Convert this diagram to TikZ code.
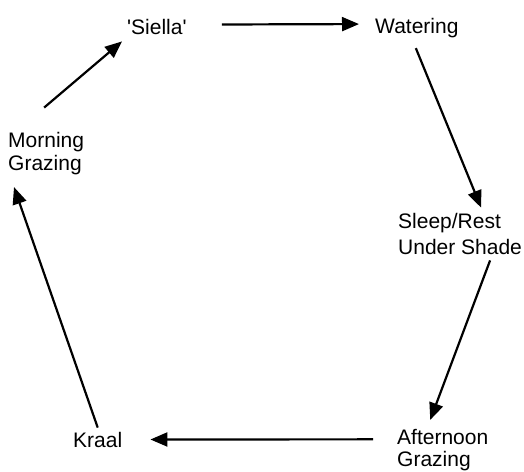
\documentclass[tikz,border=0pt]{standalone}
\usepackage{fontspec}
\newfontfamily\af{Liberation Sans}
\usetikzlibrary{arrows.meta}
\begin{document}
\begin{tikzpicture}[x=1pt,y=-1pt,
  lbl/.style={inner sep=0pt,anchor=base west,align=left,font=\af\fontsize{21}{26}\selectfont},
  arr/.style={line width=2.2pt,-{Triangle[length=17pt,width=14pt]}}]
\useasboundingbox (0,0) rectangle (524,471);
\node[lbl] (siella) at (127,34) {'Siella'};
\node[lbl] (water) at (375,33) {Watering};
\node[lbl,font=\af\fontsize{21}{23.5}\selectfont] (mg) at (8,170.5) {Morning\\Grazing};
\node[lbl] (sleep) at (398,254) {Sleep/Rest\\Under Shade};
\node[lbl,font=\af\fontsize{21}{22.5}\selectfont] (aft) at (397,466.5) {Afternoon\\Grazing};
\node[lbl] (kraal) at (73,447) {Kraal};
\draw[arr] ([shift={(35,-2)}]siella.east) -- ([shift={(-16,-3.5)}]water.west);
\draw[arr] ([shift={(-2,-24)}]mg.north) -- ([shift={(-5,7)}]siella.south west);
\draw[arr] ([shift={(-1,10.6)}]water.south) -- ([shift={(21,-5)}]sleep.north);
\draw[arr] ([shift={(30,6)}]sleep.south) -- ([shift={(-12.5,-8.7)}]aft.north);
\draw[arr] ([shift={(-24,-10.5)}]aft.west) -- ([shift={(28,0)}]kraal.east);
\draw[arr] ([shift={(0,-4)}]kraal.north) -- ([shift={(6,12)}]mg.south west);
\end{tikzpicture}
\end{document}
